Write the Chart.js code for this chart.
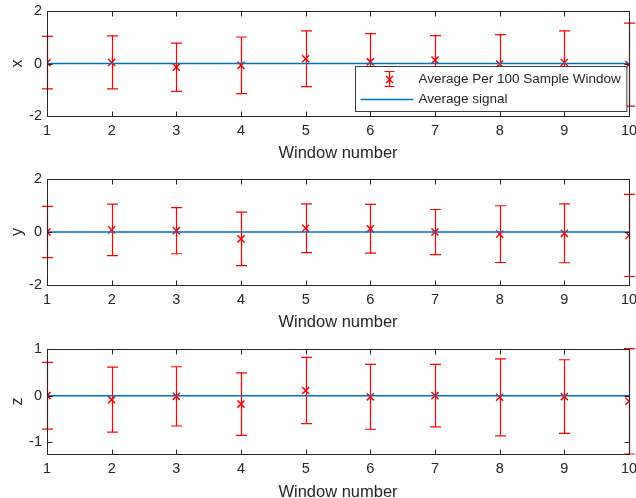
<!DOCTYPE html>
<html><head><meta charset="utf-8">
<script src="https://cdn.jsdelivr.net/npm/chart.js@4/dist/chart.umd.min.js"></script>
<style>
html,body{margin:0;padding:0;background:#fff;}
#wrap{position:relative;width:636px;height:498px;overflow:hidden;}
.p{position:absolute;left:0;width:636px;height:166px;}
</style></head><body>
<div id="wrap">
<div class="p" style="top:0"><canvas id="c1"></canvas></div>
<div class="p" style="top:166px"><canvas id="c2"></canvas></div>
<div class="p" style="top:332px"><canvas id="c3"></canvas></div>
</div>
<script>
// ---- data ----
const windows = [1, 2, 3, 4, 5, 6, 7, 8, 9, 10];
const xTickLabels = [1, 2, 3, 4, 5, 6, 7, 8, 9, 10];
const xMean = [0.03, 0.04, -0.14, -0.07, 0.18, 0.06, 0.13, -0.02, 0.04, -0.04];
const xErr  = [1.00, 1.01, 0.92, 1.08, 1.06, 1.08, 0.93, 1.12, 1.20, 1.58];
const yMean = [0.00, 0.08, 0.05, -0.26, 0.14, 0.12, 0.00, -0.08, -0.05, -0.13];
const yErr  = [0.97, 0.97, 0.87, 1.01, 0.92, 0.92, 0.85, 1.07, 1.11, 1.55];
const zMean = [0.00, -0.085, -0.015, -0.18, 0.11, -0.025, 0.00, -0.035, -0.02, -0.12];
const zErr  = [0.715, 0.695, 0.635, 0.67, 0.71, 0.695, 0.67, 0.825, 0.79, 1.13];
const avgSignalX = [0, 0, 0, 0, 0, 0, 0, 0, 0, 0];
const avgSignalY = [0, 0, 0, 0, 0, 0, 0, 0, 0, 0];
const avgSignalZ = [0, 0, 0, 0, 0, 0, 0, 0, 0, 0];
const yTicksXY = [-2, 0, 2];
const yTicksZ = [-1, 0, 1];
const seriesLabels = ['Average Per 100 Sample Window', 'Average signal'];
const xAxisTitle = 'Window number';

// ---- style ----
const FONT = '"Liberation Sans", Arial, Helvetica, sans-serif';
const TXT = '#262626';
const RED = '#FF0000';
const BLUE = '#0072BD';

const framePlugin = {
  id: 'frame',
  beforeDatasetsDraw(chart) {
    const ctx = chart.ctx, ys = chart.scales.y, xs = chart.scales.x;
    chart.data.datasets.forEach(ds => {
      if (!ds.errors) return;
      ctx.save();
      ctx.strokeStyle = RED; ctx.lineWidth = 1.2;
      ds.data.forEach((p, i) => {
        const px = Math.round(xs.getPixelForValue(p.x)) + 0.5;
        const t = ys.getPixelForValue(p.y + ds.errors[i]);
        const b = ys.getPixelForValue(p.y - ds.errors[i]);
        ctx.beginPath();
        ctx.moveTo(px, t); ctx.lineTo(px, b);
        ctx.moveTo(px - 5.5, t); ctx.lineTo(px + 5.5, t);
        ctx.moveTo(px - 5.5, b); ctx.lineTo(px + 5.5, b);
        ctx.stroke();
      });
      ctx.restore();
    });
  },
  afterDatasetsDraw(chart) {
    const ctx = chart.ctx, a = chart.chartArea, ys = chart.scales.y, xs = chart.scales.x;
    ctx.save();
    ctx.strokeStyle = TXT; ctx.lineWidth = 1;
    const L = Math.round(a.left) + 0.5, R = Math.round(a.right) + 0.5;
    const T = Math.round(a.top) + 0.5, B = Math.round(a.bottom) + 0.5;
    ctx.strokeRect(L, T, R - L, B - T);
    ctx.beginPath();
    xs.ticks.forEach(t => {
      const px = Math.round(xs.getPixelForValue(t.value)) + 0.5;
      ctx.moveTo(px, B); ctx.lineTo(px, B - 5);
      ctx.moveTo(px, T); ctx.lineTo(px, T + 5);
    });
    ys.ticks.forEach(t => {
      const py = Math.round(ys.getPixelForValue(t.value)) + 0.5;
      ctx.moveTo(L, py); ctx.lineTo(L + 5, py);
      ctx.moveTo(R, py); ctx.lineTo(R - 5, py);
    });
    ctx.stroke();
    ctx.restore();

    if (chart.options.plugins.frame && chart.options.plugins.frame.legend) {
      ctx.save();
      ctx.font = '13.5px ' + FONT;
      const labs = chart.data.datasets.map(d => d.label);
      const tw = Math.max(...labs.map(s => ctx.measureText(s).width));
      const w = 63 + tw + 6, h = 45;
      const lx = Math.round(a.right - 3 - w) + 0.5, ly = Math.round(a.top + 55) + 0.5;
      ctx.fillStyle = '#fff';
      ctx.fillRect(lx, ly, w, h);
      ctx.strokeStyle = '#3a3a3a'; ctx.lineWidth = 1;
      ctx.strokeRect(lx, ly, w, h);
      const r1 = ly + 13, r2 = ly + 33;
      const ix = Math.round(lx + 33) + 0.5;
      ctx.strokeStyle = RED; ctx.lineWidth = 1.2;
      ctx.beginPath();
      ctx.moveTo(ix, r1 - 8); ctx.lineTo(ix, r1 + 7);
      ctx.moveTo(ix - 5, r1 - 8); ctx.lineTo(ix + 5, r1 - 8);
      ctx.moveTo(ix - 5, r1 + 7); ctx.lineTo(ix + 5, r1 + 7);
      ctx.stroke();
      ctx.lineWidth = 1.5;
      ctx.beginPath();
      ctx.moveTo(ix - 3.5, r1 - 3.5); ctx.lineTo(ix + 3.5, r1 + 3.5);
      ctx.moveTo(ix - 3.5, r1 + 3.5); ctx.lineTo(ix + 3.5, r1 - 3.5);
      ctx.stroke();
      ctx.strokeStyle = BLUE; ctx.lineWidth = 1.5;
      ctx.beginPath();
      ctx.moveTo(lx + 5, r2); ctx.lineTo(lx + 58, r2);
      ctx.stroke();
      ctx.fillStyle = TXT; ctx.textBaseline = 'middle'; ctx.textAlign = 'left';
      ctx.fillText(labs[0], lx + 63, r1);
      ctx.fillText(labs[1], lx + 63, r2);
      ctx.restore();
    }
  }
};

function makeChart(id, yName, means, errs, avg, yMin, yMax, yTicks, padTop, xScaleH, titlePadB, showLegend) {
  return new Chart(document.getElementById(id), {
    type: 'scatter',
    data: {
      datasets: [
        {
          label: seriesLabels[0],
          data: windows.map((w, i) => ({ x: w, y: means[i] })),
          errors: errs,
          showLine: false,
          pointStyle: 'crossRot',
          pointRadius: 5,
          pointBorderWidth: 1.5,
          borderColor: RED,
          backgroundColor: RED,
          order: 1
        },
        {
          label: seriesLabels[1],
          type: 'line',
          data: windows.map((w, i) => ({ x: w, y: avg[i] })),
          borderColor: BLUE,
          borderWidth: 1.5,
          pointRadius: 0,
          fill: false,
          order: 0
        }
      ]
    },
    options: {
      responsive: true,
      maintainAspectRatio: false,
      animation: false,
      events: [],
      layout: { padding: { top: padTop, right: 7, left: 0, bottom: 0 } },
      plugins: {
        legend: { display: false },
        tooltip: { enabled: false },
        frame: { legend: showLegend }
      },
      scales: {
        x: {
          type: 'linear', min: 1, max: 10,
          grid: { display: false, drawTicks: false, tickLength: 0 }, border: { display: false },
          afterBuildTicks: s => { s.ticks = xTickLabels.map(v => ({ value: v })); },
          ticks: { color: TXT, padding: 6, maxRotation: 0, autoSkip: false,
                   font: { family: FONT, size: 14.5 } },
          title: { display: true, text: xAxisTitle, color: TXT,
                   font: { family: FONT, size: 16.5, lineHeight: 1 },
                   padding: { top: 0, bottom: titlePadB } },
          afterFit: s => { s.height = xScaleH; s.paddingLeft = 0; s.paddingRight = 0; }
        },
        y: {
          type: 'linear', min: yMin, max: yMax,
          grid: { display: false, drawTicks: false, tickLength: 0 }, border: { display: false },
          afterBuildTicks: s => { s.ticks = yTicks.map(v => ({ value: v })); },
          ticks: { color: TXT, padding: 5, font: { family: FONT, size: 14.5 } },
          title: { display: true, text: yName, color: TXT,
                   font: { family: FONT, size: 16, lineHeight: 1 },
                   padding: { top: 9.5, bottom: 0 } },
          afterFit: s => { s.width = 47; s.paddingTop = 0; s.paddingBottom = 0; }
        }
      }
    },
    plugins: [framePlugin]
  });
}

makeChart('c1', 'x', xMean, xErr, avgSignalX, -2, 2, yTicksXY, 11, 50, 4, true);
makeChart('c2', 'y', yMean, yErr, avgSignalY, -2, 2, yTicksXY, 13, 47, 1, false);
makeChart('c3', 'z', zMean, zErr, avgSignalZ, -1.25, 1, yTicksZ, 17, 44, -3, false);
</script>
</body></html>
